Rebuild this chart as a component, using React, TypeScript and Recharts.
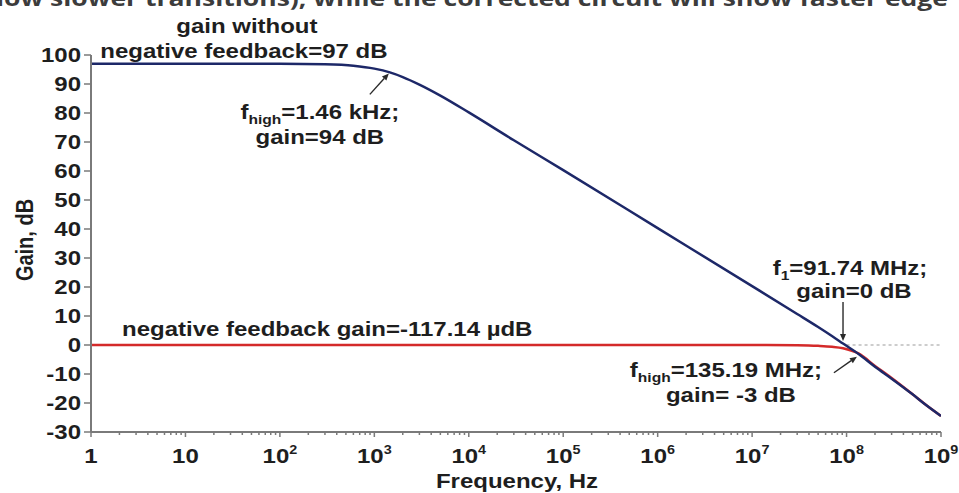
import React from "react";
import {
  LineChart,
  Line,
  XAxis,
  YAxis,
  ReferenceLine,
  ReferenceDot,
  Customized,
} from "recharts";

// ---- data ----
const freqs = [
  1, 10, 100, 300, 600, 1000, 1460, 2000, 3000, 5000, 1e4, 3e4, 1e5, 1e6, 1e7,
  3e7, 5e7, 7e7, 9.174e7, 1.3519e8, 2e8, 3e8, 5e8, 7e8, 1e9,
];
const openLoopGain = [
  97, 97, 97, 96.8, 96.3, 95.3, 94, 92.4, 89.8, 86, 80.2, 70.6, 60.3, 40.3,
  20.3, 10.7, 6.2, 3.1, 0.5, -3.2, -7.5, -11.6, -17, -20.8, -24.5,
];
const closedLoopGain = [
  0, 0, 0, 0, 0, 0, 0, 0, 0, 0, 0, 0, 0, 0, 0, -0.1, -0.3, -0.6, -1.1, -3,
  -7.2, -11.4, -17, -20.8, -24.5,
];
const majorTicks = [1, 10, 1e2, 1e3, 1e4, 1e5, 1e6, 1e7, 1e8, 1e9];
const minorMultipliers = [2, 3, 4, 5, 6, 7, 8, 9];
const yTicks = [-30, -20, -10, 0, 10, 20, 30, 40, 50, 60, 70, 80, 90, 100];
const xTickExp = ["1", "10", "2", "3", "4", "5", "6", "7", "8", "9"];

const rows = freqs.map((f, i) => ({
  f,
  open: openLoopGain[i],
  closed: closedLoopGain[i],
}));
const minorTicks: number[] = [];
majorTicks.slice(0, -1).forEach((m) =>
  minorMultipliers.forEach((k) => minorTicks.push(m * k))
);
const allTicks = [...majorTicks, ...minorTicks].sort((a, b) => a - b);

const FONT = "'Liberation Sans', Arial, sans-serif";
const SX = 1.2;
const TXT = "#1e1e1e";
const AXIS = "#7a7a7a";
const BLUE = "#1d2868";
const RED = "#d42a2a";

function T({ x, y, anchor = "middle", size = 20, children }: any) {
  return (
    <text
      transform={`translate(${x},${y}) scale(${SX},1)`}
      x={0}
      y={0}
      textAnchor={anchor}
      fontFamily={FONT}
      fontWeight="bold"
      fontSize={size}
      fill={TXT}
    >
      {children}
    </text>
  );
}

function XTick(props: any) {
  const { x, y, payload } = props;
  const v = payload.value;
  const idx = majorTicks.indexOf(v);
  const isMajor = idx >= 0;
  return (
    <g>
      <line
        x1={x}
        x2={x}
        y1={y}
        y2={y + (isMajor ? 5 : 3)}
        stroke={AXIS}
        strokeWidth={1.5}
      />
      {isMajor &&
        (idx < 2 ? (
          <T x={x} y={y + 31}>
            {xTickExp[idx]}
          </T>
        ) : (
          <T x={x} y={y + 31}>
            <tspan>10</tspan>
            <tspan fontSize={12} dy={-9}>
              {xTickExp[idx]}
            </tspan>
          </T>
        ))}
    </g>
  );
}

function YTick(props: any) {
  const { x, y, payload } = props;
  return (
    <g>
      <line x1={x - 7} x2={x} y1={y} y2={y} stroke={AXIS} strokeWidth={1.5} />
      <T x={x - 10} y={y + 7} anchor="end">
        {payload.value}
      </T>
    </g>
  );
}

function Arrow({ x1, y1, x2, y2 }: any) {
  const a = Math.atan2(y2 - y1, x2 - x1);
  const L = 7,
    W = 3;
  const bx = x2 - L * Math.cos(a),
    by = y2 - L * Math.sin(a);
  const px = -Math.sin(a) * W,
    py = Math.cos(a) * W;
  return (
    <g>
      <line x1={x1} y1={y1} x2={bx} y2={by} stroke="#2a2a2a" strokeWidth={1.4} />
      <polygon
        points={`${x2},${y2} ${bx + px},${by + py} ${bx - px},${by - py}`}
        fill="#2a2a2a"
      />
    </g>
  );
}

const Sub = ({ children }: any) => (
  <tspan fontSize={13} dy={5}>
    {children}
  </tspan>
);

function Ann1({ cx, cy }: any) {
  return (
    <g>
      <Arrow x1={cx - 20} y1={cy + 22} x2={cx - 1} y2={cy + 1} />
      <T x={cx - 70} y={cy + 47}>
        <tspan>f</tspan>
        <Sub>high</Sub>
        <tspan dy={-5}>=1.46 kHz;</tspan>
      </T>
      <T x={cx - 70} y={cy + 72}>
        gain=94 dB
      </T>
    </g>
  );
}

function Ann2({ cx, cy }: any) {
  return (
    <g>
      <Arrow x1={cx} y1={cy - 43} x2={cx} y2={cy - 4} />
      <T x={cx + 7} y={cy - 70}>
        <tspan>f</tspan>
        <Sub>1</Sub>
        <tspan dy={-5}>=91.74 MHz;</tspan>
      </T>
      <T x={cx + 11} y={cy - 47}>
        gain=0 dB
      </T>
    </g>
  );
}

function Ann3({ cx, cy }: any) {
  return (
    <g>
      <Arrow x1={cx - 25} y1={cy + 19} x2={cx - 2} y2={cy + 3} />
      <T x={cx - 133} y={cy + 23}>
        <tspan>f</tspan>
        <Sub>high</Sub>
        <tspan dy={-5}>=135.19 MHz;</tspan>
      </T>
      <T x={cx - 128} y={cy + 48}>
        gain= -3 dB
      </T>
    </g>
  );
}

function Ann4({ cx, cy }: any) {
  return (
    <g>
      <T x={cx - 33} y={cy - 31}>
        gain without
      </T>
      <T x={cx - 36} y={cy - 6}>
        negative feedback=97 dB
      </T>
    </g>
  );
}

function Ann5({ cx, cy }: any) {
  return (
    <T x={cx + 31} y={cy - 9} anchor="start">
      negative feedback gain=-117.14 µdB
    </T>
  );
}

function Titles() {
  return (
    <g>
      <text
        x={-4}
        y={6}
        fontFamily="'Open Sans', sans-serif"
        fontWeight="bold"
        fontSize={22}
        fill="#3c3c3c"
        textLength={952}
        lengthAdjust="spacingAndGlyphs"
      >
        low slower transitions), while the corrected circuit will show faster edge
      </text>
      <text
        transform={`translate(33,240) rotate(-90) scale(1,${SX})`}
        textAnchor="middle"
        fontFamily={FONT}
        fontWeight="bold"
        fontSize={20}
        fill={TXT}
      >
        Gain, dB
      </text>
      <T x={517} y={488}>
        Frequency, Hz
      </T>
    </g>
  );
}

export default function App() {
  return (
    <div
      style={{
        position: "absolute",
        left: 0,
        top: 0,
        width: 959,
        height: 493,
        background: "#fff",
      }}
    >
      <LineChart
        width={959}
        height={493}
        data={rows}
        margin={{ top: 55, right: 18, bottom: 0, left: 0 }}
      >
        <XAxis
          dataKey="f"
          type="number"
          scale="log"
          domain={[1, 1e9]}
          ticks={allTicks}
          interval={0}
          allowDataOverflow
          height={61}
          tickSize={0}
          tickMargin={0}
          tickLine={false}
          axisLine={{ stroke: AXIS, strokeWidth: 2 }}
          tick={<XTick />}
        />
        <YAxis
          type="number"
          domain={[-30, 100]}
          ticks={yTicks}
          interval={0}
          allowDataOverflow
          width={91}
          tickSize={0}
          tickMargin={0}
          tickLine={false}
          axisLine={{ stroke: AXIS, strokeWidth: 2 }}
          tick={<YTick />}
        />
        <ReferenceLine
          segment={[
            { x: 1e8, y: 0 },
            { x: 1e9, y: 0 },
          ]}
          stroke="#bdbdbd"
          strokeDasharray="3 3"
          strokeWidth={1.5}
        />
        <Line
          dataKey="closed"
          type="monotone"
          stroke={RED}
          strokeWidth={2.5}
          dot={false}
          isAnimationActive={false}
        />
        <Line
          dataKey="open"
          type="monotone"
          stroke={BLUE}
          strokeWidth={2.5}
          dot={false}
          isAnimationActive={false}
        />
        <ReferenceDot x={1460} y={94} r={0} shape={(p: any) => <Ann1 {...p} />} />
        <ReferenceDot x={9.174e7} y={0} r={0} shape={(p: any) => <Ann2 {...p} />} />
        <ReferenceDot x={1.3519e8} y={-3} r={0} shape={(p: any) => <Ann3 {...p} />} />
        <ReferenceDot x={100} y={97} r={0} shape={(p: any) => <Ann4 {...p} />} />
        <ReferenceDot x={1} y={0} r={0} shape={(p: any) => <Ann5 {...p} />} />
        <Customized component={<Titles />} />
      </LineChart>
    </div>
  );
}
